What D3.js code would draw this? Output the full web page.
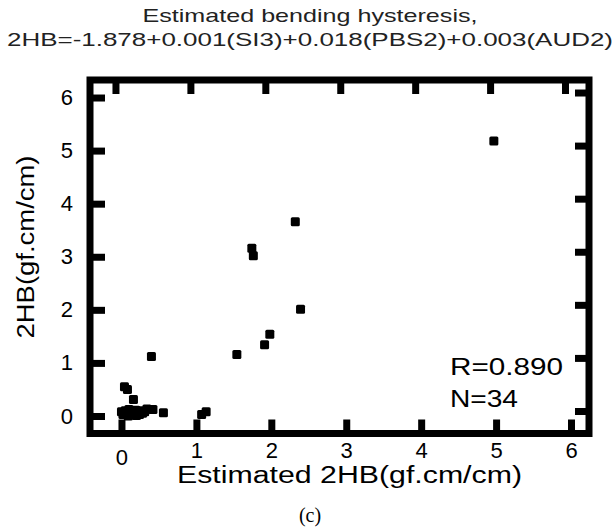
<!DOCTYPE html>
<html>
<head>
<meta charset="utf-8">
<script src="https://cdn.jsdelivr.net/npm/d3@7"></script>
<style>
  body { margin: 0; background: #fff; }
  text { font-family: "Liberation Sans", Arial, sans-serif; }
</style>
</head>
<body>
<div id="chart"></div>
<script>
// data
const estimated = [4.97, 2.32, 1.74, 1.76, 2.39, 1.98, 1.91, 1.54, 0.40, 0.04, 0.08, 0.16,
  1.07, 1.13, 0.42, 0.56,
  0.00, 0.02, 0.05, 0.07, 0.09, 0.10, 0.12, 0.13, 0.15, 0.17, 0.19, 0.20, 0.22, 0.24, 0.26, 0.28, 0.31, 0.34];
const measured = [5.18, 3.66, 3.16, 3.02, 2.01, 1.54, 1.34, 1.16, 1.12, 0.55, 0.50, 0.31,
  0.03, 0.08, 0.12, 0.06,
  0.08, 0.03, 0.10, 0.05, 0.00, 0.12, 0.06, 0.02, 0.09, 0.04, 0.11, 0.01, 0.07, 0.03, 0.10, 0.05, 0.08, 0.13];
const xTicks = [0, 1, 2, 3, 4, 5, 6];
const yTicks = [0, 1, 2, 3, 4, 5, 6];
const titleLines = ['Estimated bending hysteresis,', '2HB=-1.878+0.001(SI3)+0.018(PBS2)+0.003(AUD2)'];
const statLines = ['R=0.890', 'N=34'];

const W = 615, H = 528;
const frame = { left: 90, right: 589, top: 80, bottom: 433.5 };

const svg = d3.select('#chart').append('svg')
  .attr('width', W)
  .attr('height', H);

const x = d3.scaleLinear().domain([-0.42, 6.24]).range([frame.left, frame.right]);
const y = d3.scaleLinear().domain([-0.33, 6.33]).range([frame.bottom, frame.top]);

// title
svg.append('g').selectAll('text')
  .data(titleLines)
  .enter()
  .append('text')
  .attr('x', 310)
  .attr('y', (d, i) => 22 + i * 24)
  .attr('text-anchor', 'middle')
  .attr('textLength', (d, i) => i === 0 ? 335 : 606)
  .attr('lengthAdjust', 'spacingAndGlyphs')
  .style('font-size', '19px')
  .style('fill', '#222')
  .text((d) => d);

// axes: thick inward ticks
function styleAxis(g) {
  g.select('.domain').remove();
  g.selectAll('.tick line').attr('stroke', '#000').attr('stroke-width', 7);
  g.selectAll('.tick text').style('font-size', '22px').style('fill', '#000')
    .style('font-family', '"Liberation Sans", Arial, sans-serif');
}

svg.append('g')
  .attr('transform', `translate(0,${frame.bottom})`)
  .call(d3.axisBottom(x).tickValues(xTicks).tickFormat(d3.format('d'))
    .tickSizeInner(-14).tickSizeOuter(0).tickPadding(9))
  .call(styleAxis)
  .selectAll('.tick text')
  .attr('dy', (d) => d === 0 ? '1.0em' : '0.71em');

svg.append('g')
  .attr('transform', `translate(${frame.left},0)`)
  .call(d3.axisLeft(y).tickValues(yTicks).tickFormat(d3.format('d'))
    .tickSizeInner(-15).tickSizeOuter(0).tickPadding(17))
  .call(styleAxis);

// the top and right ticks sit a few pixels off in the original
svg.append('g')
  .attr('transform', `translate(-6,${frame.top})`)
  .call(d3.axisTop(x).tickValues(xTicks).tickSizeInner(-14).tickSizeOuter(0).tickFormat(''))
  .call(styleAxis);

svg.append('g')
  .attr('transform', `translate(${frame.right},-5)`)
  .call(d3.axisRight(y).tickValues(yTicks).tickSizeInner(-14).tickSizeOuter(0).tickFormat(''))
  .call(styleAxis);

// frame
svg.append('rect')
  .attr('x', frame.left)
  .attr('y', frame.top)
  .attr('width', frame.right - frame.left)
  .attr('height', frame.bottom - frame.top)
  .attr('fill', 'none')
  .attr('stroke', '#000')
  .attr('stroke-width', 7);

// points
const pts = estimated.map((v, i) => ({ x: v, y: measured[i] }));
svg.append('g')
  .selectAll('rect')
  .data(pts)
  .enter()
  .append('rect')
  .attr('x', (d) => x(d.x) - 4.5)
  .attr('y', (d) => y(d.y) - 4.5)
  .attr('width', 9)
  .attr('height', 9)
  .attr('rx', 1.5)
  .attr('fill', '#000');

// R and N
svg.append('g').selectAll('text')
  .data(statLines)
  .enter()
  .append('text')
  .attr('x', 450)
  .attr('y', (d, i) => 375 + i * 32)
  .attr('textLength', (d, i) => i === 0 ? 113 : 68)
  .attr('lengthAdjust', 'spacingAndGlyphs')
  .style('font-size', '24px')
  .style('fill', '#000')
  .text((d) => d);

// X-axis label
svg.append('text')
  .attr('x', 349.5)
  .attr('y', 483)
  .attr('text-anchor', 'middle')
  .attr('textLength', 345)
  .attr('lengthAdjust', 'spacingAndGlyphs')
  .style('font-size', '23px')
  .style('fill', '#000')
  .text('Estimated 2HB(gf.cm/cm)');

// Y-axis label
svg.append('text')
  .attr('transform', 'rotate(-90)')
  .attr('x', -247)
  .attr('y', 34)
  .attr('text-anchor', 'middle')
  .attr('textLength', 183)
  .attr('lengthAdjust', 'spacingAndGlyphs')
  .style('font-size', '23px')
  .style('fill', '#000')
  .text('2HB(gf.cm/cm)');

// panel caption
svg.append('text')
  .attr('x', 310)
  .attr('y', 522)
  .attr('text-anchor', 'middle')
  .style('font-family', '"Liberation Serif", "Times New Roman", serif')
  .style('font-size', '20px')
  .style('fill', '#000')
  .text('(c)');
</script>
</body>
</html>
